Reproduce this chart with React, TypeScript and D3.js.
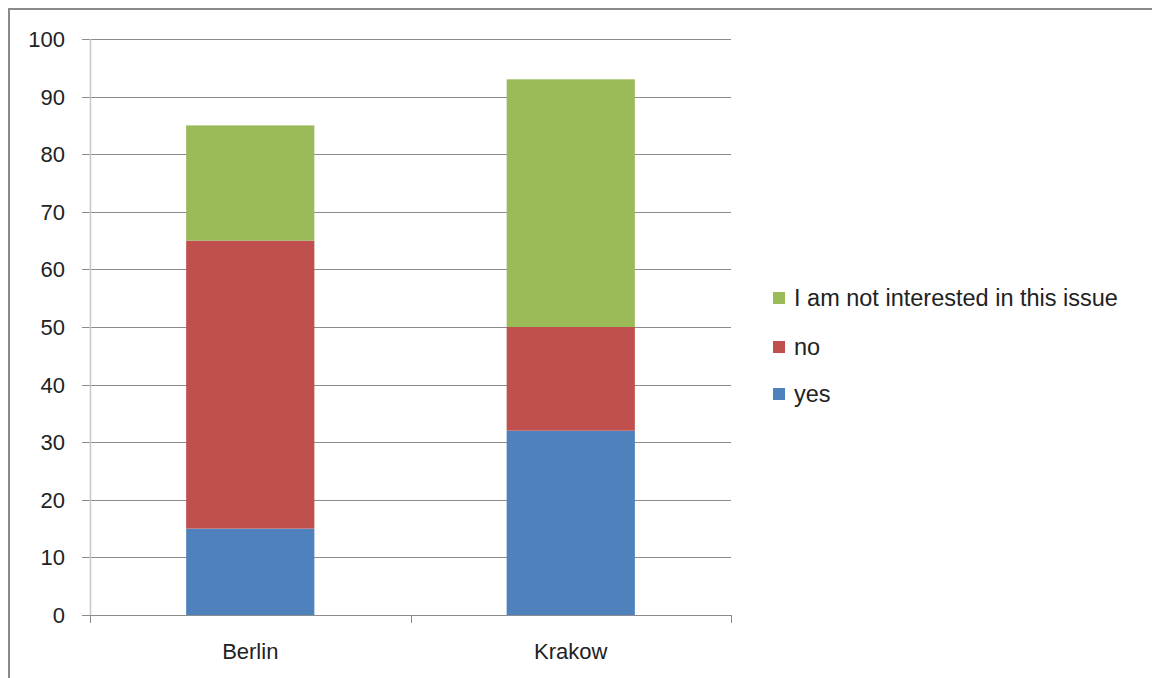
import React from "react";
import * as d3 from "d3";

const categories = ["Berlin", "Krakow"];
const seriesNames = ["yes", "no", "I am not interested in this issue"];
const yesValues = [15, 32];
const noValues = [50, 18];
const notInterestedValues = [20, 43];
const seriesColors = ["#4F81BD", "#C0504D", "#9BBB59"];
const yTicks = [0, 10, 20, 30, 40, 50, 60, 70, 80, 90, 100];

export default function App() {
  const W = 1152, H = 678;
  const left = 90, right = 731, top = 39, bottom = 615;
  const y = d3.scaleLinear().domain([0, 100]).range([bottom, top]);
  const xOuter = d3.scaleBand().domain(categories).range([left, right]);
  const barW = xOuter.bandwidth() * 0.4;
  const rows = categories.map((c, i) => ({ cat: c, yes: yesValues[i], no: noValues[i], ni: notInterestedValues[i] }));
  const stack = d3.stack<any>().keys(["yes", "no", "ni"])(rows);
  const font = "'Liberation Sans', Arial, sans-serif";
  const legendY = [298, 347, 394];
  const legendOrder = [2, 1, 0];
  return (
    <svg width={W} height={H} style={{ position: "absolute", left: 0, top: 0 }}>
      <rect x={0} y={0} width={W} height={H} fill="#fff" />
      <rect x={9} y={9} width={W + 20} height={H + 20} fill="none" stroke="#8a8a8a" strokeWidth={2} />
      {yTicks.map((t) => (
        <g key={t}>
          <line x1={82} x2={right} y1={Math.round(y(t)) + 0.5} y2={Math.round(y(t)) + 0.5} stroke="#8c8c8c" strokeWidth={1} />
          <text x={65} y={y(t)} dy="0.36em" textAnchor="end" fontFamily={font} fontSize={22} fill="#222">{t}</text>
        </g>
      ))}
      <line x1={left + 0.5} x2={left + 0.5} y1={top} y2={bottom} stroke="#c8c8c8" strokeWidth={1.5} />
      {stack.map((s, si) => (
        <g key={si} fill={seriesColors[si]}>
          {s.map((d, i) => (
            <rect key={i} x={xOuter(categories[i])! + (xOuter.bandwidth() - barW) / 2} width={barW} y={y(d[1])} height={y(d[0]) - y(d[1])} />
          ))}
        </g>
      ))}
      <line x1={left} x2={right} y1={bottom + 0.5} y2={bottom + 0.5} stroke="#8c8c8c" strokeWidth={1} />
      {[...categories.map((c) => xOuter(c)!), right].map((px, i) => (
        <line key={i} x1={Math.round(px) + 0.5} x2={Math.round(px) + 0.5} y1={bottom} y2={bottom + 8} stroke="#8c8c8c" strokeWidth={1} />
      ))}
      {categories.map((c) => (
        <text key={c} x={xOuter(c)! + xOuter.bandwidth() / 2} y={651} dy="0.36em" textAnchor="middle" fontFamily={font} fontSize={22} fill="#222">{c}</text>
      ))}
      {legendOrder.map((si, k) => (
        <g key={si}>
          <rect x={773} y={legendY[k] - 6} width={12} height={12} fill={seriesColors[si]} />
          <text x={794} y={legendY[k]} dy="0.36em" fontFamily={font} fontSize={23.5} fill="#222">{seriesNames[si]}</text>
        </g>
      ))}
    </svg>
  );
}
